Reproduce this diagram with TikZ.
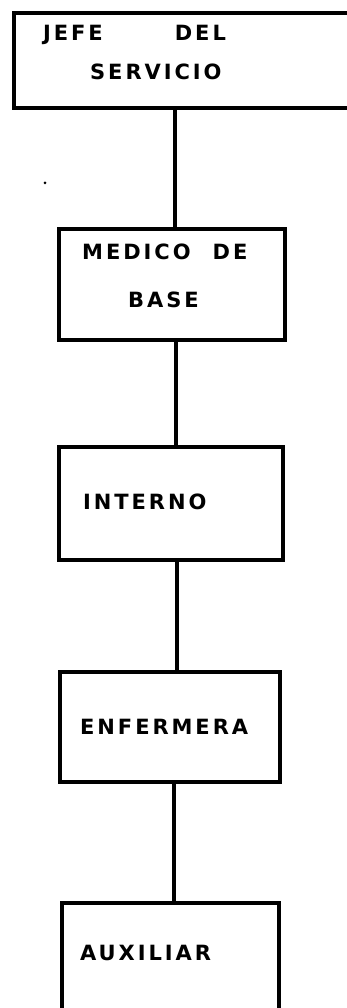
\documentclass[tikz,border=0pt]{standalone}
\usepackage{fontspec}
\newfontfamily\hand[LetterSpace=14]{DejaVu Sans}
\tikzset{
  box/.style={draw, rectangle, line width=3.6pt, inner sep=0pt, outer sep=0pt},
  link/.style={line width=3.6pt},
  lbl/.style={font=\hand\bfseries\fontsize{21}{24}\selectfont, inner sep=0pt, anchor=west},
}
\begin{document}
\begin{tikzpicture}[x=1pt,y=-1pt]
  \useasboundingbox (0,0) rectangle (346,1008);
  % organisation boxes (first one runs off the right edge, last one off the bottom)
  \node[box, minimum width=339pt, minimum height=95pt] (jefe) at (183.5,60.5) {};
  \node[box, minimum width=226pt, minimum height=111pt] (medico) at (172,284.5) {};
  \node[box, minimum width=224pt, minimum height=113pt] (interno) at (171,503.5) {};
  \node[box, minimum width=220pt, minimum height=110pt] (enfermera) at (170,727) {};
  \node[box, minimum width=217pt, minimum height=112pt] (auxiliar) at (170.5,959) {};
  % labels
  \node[lbl] (t1) at (43,35) {JEFE\hspace{72pt}DEL};
  \node[lbl] (t2) at (90,72) {SERVICIO};
  \node[lbl] (t3) at (82,252) {MEDICO\hspace{22pt}DE};
  \node[lbl] (t4) at (128,300) {BASE};
  \node[lbl] (t5) at (83,502) {INTERNO};
  \node[lbl] (t6) at (80,727) {ENFERMERA};
  \node[lbl] (t7) at (80,953) {AUXILIAR};
  % connectors
  \draw[link] ([xshift=3pt]medico.north |- jefe.south) -- ([xshift=3pt]medico.north);
  \draw[link] ([xshift=4pt]medico.south) -- ([xshift=4pt]medico.south |- interno.north);
  \draw[link] ([xshift=6pt]interno.south) -- ([xshift=6pt]interno.south |- enfermera.north);
  \draw[link] ([xshift=4pt]enfermera.south) -- ([xshift=4pt]enfermera.south |- auxiliar.north);
  % stray ink dot
  \fill (45,183) circle (1.5pt);
\end{tikzpicture}
\end{document}
